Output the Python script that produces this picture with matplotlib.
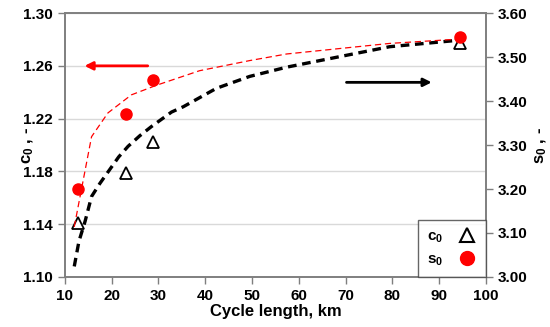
"""
c0 and s0 against cycle length, with fitted trend curves
"""

import matplotlib
matplotlib.use("Agg")
from matplotlib import pyplot as plt
from matplotlib.lines import Line2D

plt.rcParams["font.family"] = "Liberation Sans"
plt.rcParams["font.weight"] = "bold"
plt.rcParams["axes.labelweight"] = "bold"
plt.rcParams["mathtext.fontset"] = "custom"
plt.rcParams["mathtext.rm"] = "Liberation Sans:bold"
plt.rcParams["mathtext.it"] = "Liberation Sans:bold"
plt.rcParams["mathtext.default"] = "rm"

# Measured points
cycle_km = [12.8, 23.0, 28.8, 94.4]
c0_meas = [1.141, 1.179, 1.202, 1.277]
s0_meas = [3.200, 3.370, 3.448, 3.545]

# Trend curves
c0_fit_x = [12.0, 13.0, 14.3, 15.7, 17.5, 19.3, 21.5, 23.5, 26.0, 28.5, 32.8, 35.3, 42.4, 49.5, 57.4, 64.5, 79.4, 94.4]
c0_fit_y = [1.108, 1.127, 1.142, 1.161, 1.171, 1.180, 1.191, 1.199, 1.207, 1.214, 1.225, 1.229, 1.243, 1.252, 1.259, 1.264, 1.2745, 1.2795]
s0_fit_x = [12.0, 15.7, 19.2, 24.2, 29.6, 38.8, 49.5, 57.4, 79.4, 94.4]
s0_fit_y = [3.114, 3.319, 3.373, 3.414, 3.436, 3.469, 3.492, 3.507, 3.531, 3.541]

fig = plt.figure(figsize=(5.5, 3.27), dpi=100)
ax = fig.add_axes([0.118, 0.153, 0.7655, 0.807])
ax2 = ax.twinx()

# Grid on the left scale
ax.set_axisbelow(True)
ax.yaxis.grid(True, color="#d9d9d9", linewidth=1.0)

ax.plot(c0_fit_x, c0_fit_y, color="black", linestyle=(0, (2.6, 1.7)), linewidth=2.4, zorder=2)
ax.plot(cycle_km, c0_meas, linestyle="none", marker="^", markersize=8,
        markerfacecolor="white", markeredgecolor="black", markeredgewidth=1.3, zorder=3)

ax2.plot(s0_fit_x, s0_fit_y, color="red", linestyle=(0, (5, 3)), linewidth=0.9, zorder=2)
ax2.plot(cycle_km, s0_meas, linestyle="none", marker="o", markersize=8,
         color="red", zorder=3)

# Arrows pointing to each axis
ax.annotate("", xy=(13.6, 1.26), xytext=(28.3, 1.26),
            arrowprops=dict(arrowstyle="-|>", color="red", lw=2, mutation_scale=12))
ax.annotate("", xy=(89.0, 1.2475), xytext=(69.6, 1.2475),
            arrowprops=dict(arrowstyle="-|>", color="black", lw=2, mutation_scale=12))

ax.set_xlim(10, 100)
ax.set_ylim(1.10, 1.30)
ax2.set_ylim(3.00, 3.60)
ax.set_xticks(range(10, 101, 10))
ax.set_yticks([1.10, 1.14, 1.18, 1.22, 1.26, 1.30])
ax2.set_yticks([3.0, 3.1, 3.2, 3.3, 3.4, 3.5, 3.6])
ax.set_yticklabels([f"{v:.2f}" for v in ax.get_yticks()])
ax2.set_yticklabels([f"{v:.2f}" for v in ax2.get_yticks()])

for a in (ax, ax2):
    a.tick_params(labelsize=11, length=5, width=1, color="#7f7f7f", direction="out")
    for s in a.spines.values():
        s.set_color("#7f7f7f")
        s.set_linewidth(1.2)

ax.set_xlabel("Cycle length, km", fontsize=12, labelpad=1)
ax.set_ylabel("c$_0$ , -", fontsize=12)
ax2.set_ylabel("s$_0$ , -", fontsize=12)
ax.yaxis.set_label_coords(-0.069, 0.5)
ax2.yaxis.set_label_coords(1.114, 0.5)

handles = [
    Line2D([], [], linestyle="none", marker="^", markersize=10, markerfacecolor="white",
           markeredgecolor="black", markeredgewidth=1.5),
    Line2D([], [], linestyle="none", marker="o", markersize=10, color="red"),
]
leg = ax2.legend(handles, ["c$_0$", "s$_0$"], loc="lower right", markerfirst=False,
                 frameon=True, fancybox=False, borderaxespad=0, fontsize=11,
                 handletextpad=0.9, borderpad=0.6, labelspacing=0.5, handlelength=1.3)
leg.get_frame().set_edgecolor("#404040")
leg.get_frame().set_linewidth(1)

plt.savefig("out.png", dpi=100)
